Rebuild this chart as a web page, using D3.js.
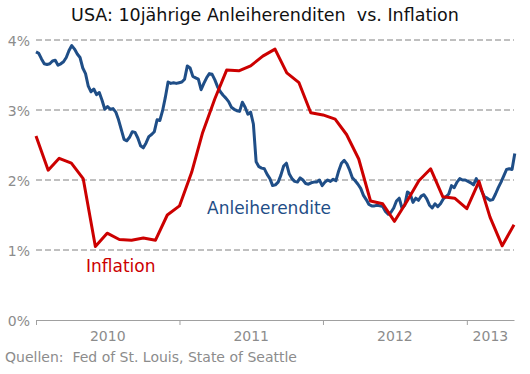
<!DOCTYPE html>
<html>
<head>
<meta charset="utf-8">
<script src="https://cdn.jsdelivr.net/npm/d3@7"></script>
<style>
  body { margin: 0; background: #fff; }
  text { font-family: "DejaVu Sans", Verdana, sans-serif; }
</style>
</head>
<body>
<svg id="chart" width="530" height="374"></svg>
<script>
// 10-year treasury yield, weekly from Jan 2010 (percent)
let yieldWeekly = [
  3.83, 3.81, 3.73, 3.66, 3.65, 3.66, 3.70, 3.71, 3.64, 3.66, 3.69, 3.75, 3.85, 3.92, 3.87, 3.80,
  3.75, 3.60, 3.52, 3.34, 3.26, 3.30, 3.22, 3.25, 3.14, 3.01, 3.05, 3.01, 3.02, 2.97, 2.86, 2.72,
  2.58, 2.56, 2.61, 2.69, 2.68, 2.60, 2.49, 2.46, 2.53, 2.62, 2.65, 2.69, 2.86, 2.85, 2.99, 3.18,
  3.40, 3.38, 3.39, 3.38, 3.39, 3.40, 3.44, 3.63, 3.60, 3.48, 3.46, 3.44, 3.29, 3.38, 3.46, 3.52,
  3.51, 3.43, 3.33, 3.26, 3.21, 3.17, 3.12, 3.04, 3.01, 2.99, 2.98, 3.11, 3.04, 2.94, 2.97, 2.80,
  2.26, 2.19, 2.17, 2.16, 2.08, 2.02, 1.92, 1.93, 1.97, 2.07, 2.20, 2.24, 2.09, 2.02, 1.98, 1.97,
  2.03, 2.00, 1.95, 1.94, 1.96, 1.97, 1.97, 2.00, 1.92, 1.97, 2.00, 1.98, 2.01, 1.99, 2.13, 2.24,
  2.28, 2.23, 2.14, 2.03, 1.99, 1.94, 1.88, 1.78, 1.72, 1.65, 1.63, 1.63, 1.64, 1.63, 1.62, 1.55,
  1.51, 1.54, 1.60, 1.70, 1.74, 1.60, 1.64, 1.83, 1.80, 1.68, 1.74, 1.71, 1.77, 1.79, 1.73, 1.64,
  1.60, 1.66, 1.62, 1.66, 1.73, 1.76, 1.80, 1.92, 1.89, 1.97, 2.02, 2.00, 2.00, 1.98, 1.96, 1.93,
  2.02, 1.94, 1.84, 1.76, 1.74, 1.71, 1.72, 1.80, 1.89, 1.97, 2.06, 2.15, 2.16, 2.15, 2.38
];

// CPI inflation, monthly from Jan 2010 (percent)
let inflationMonthly = [
  2.63, 2.14, 2.31, 2.24, 2.02, 1.05, 1.24, 1.15, 1.14, 1.17, 1.14, 1.50,
  1.63, 2.11, 2.68, 3.16, 3.57, 3.56, 3.63, 3.77, 3.87, 3.53, 3.39, 2.96,
  2.93, 2.87, 2.65, 2.30, 1.70, 1.66, 1.41, 1.69, 1.99, 2.16, 1.76, 1.74,
  1.59, 1.98, 1.47, 1.06, 1.36
];

let yTicks = [0, 1, 2, 3, 4];
let years = [2010, 2011, 2012, 2013];

let start = new Date(2010, 0, 1);
let end = new Date(2013, 4, 1);

let svg = d3.select("#chart");

let xScale = d3.scaleTime().domain([start, end]).range([36, 514]);
let yScale = d3.scaleLinear().domain([0, 4]).range([320, 40]);

// title
svg.append("text")
    .attr("x", 265)
    .attr("y", 21)
    .attr("text-anchor", "middle")
    .attr("font-size", "17.5px")
    .attr("fill", "#111")
    .style("white-space", "pre")
    .text("USA: 10jährige Anleiherenditen  vs. Inflation");

// grid lines + y labels
let grid = svg.append("g");
grid.selectAll("line")
    .data(yTicks.filter(d => d > 0))
    .join("line")
    .attr("x1", 36)
    .attr("x2", 514)
    .attr("y1", d => yScale(d))
    .attr("y2", d => yScale(d))
    .attr("stroke", "#808080")
    .attr("stroke-dasharray", "6,3");

grid.selectAll("text")
    .data(yTicks)
    .join("text")
    .attr("x", 30)
    .attr("y", d => yScale(d) + 6)
    .attr("text-anchor", "end")
    .attr("font-size", "14px")
    .attr("fill", "#8c8c8c")
    .text(d => d + "%");

// x axis
let xAxis = d3.axisBottom(xScale)
    .tickValues(years.map(y => new Date(y, 0, 1)))
    .tickFormat("")
    .tickSize(5)
    .tickSizeOuter(0);

let axisG = svg.append("g")
    .attr("transform", "translate(0,320)")
    .call(xAxis);
axisG.select(".domain").attr("stroke", "#a0a0a0");
axisG.selectAll(".tick line").attr("stroke", "#a0a0a0");

// year labels, centred in each year span
svg.append("g").selectAll("text")
    .data(years)
    .join("text")
    .attr("x", y => {
        let a = new Date(y, 0, 1);
        let b = d3.min([new Date(y + 1, 0, 1), end]);
        return (xScale(a) + xScale(b)) / 2;
    })
    .attr("y", 341)
    .attr("text-anchor", "middle")
    .attr("font-size", "14px")
    .attr("fill", "#8c8c8c")
    .text(y => y);

// lines
let yieldData = yieldWeekly.map((v, i) => ({ date: d3.timeWeek.offset(start, i), value: v }));
let inflationData = inflationMonthly.map((v, i) => ({ date: d3.timeMonth.offset(start, i), value: v }));

let line = d3.line()
    .x(d => xScale(d.date))
    .y(d => yScale(d.value));

svg.append("path")
    .datum(yieldData)
    .attr("d", line)
    .attr("fill", "none")
    .attr("stroke", "#1f4e87")
    .attr("stroke-width", 3)
    .attr("stroke-linejoin", "round");

svg.append("path")
    .datum(inflationData)
    .attr("d", line)
    .attr("fill", "none")
    .attr("stroke", "#cc0000")
    .attr("stroke-width", 3)
    .attr("stroke-linejoin", "round");

// series labels
svg.append("text")
    .attr("x", 207)
    .attr("y", 214)
    .attr("font-size", "17px")
    .attr("fill", "#1f4e87")
    .text("Anleiherendite");

svg.append("text")
    .attr("x", 86)
    .attr("y", 272)
    .attr("font-size", "17px")
    .attr("fill", "#cc0000")
    .text("Inflation");

// source
svg.append("text")
    .attr("x", 5)
    .attr("y", 362)
    .attr("font-size", "14px")
    .attr("fill", "#8c8c8c")
    .style("white-space", "pre")
    .text("Quellen:  Fed of St. Louis, State of Seattle");
</script>
</body>
</html>
